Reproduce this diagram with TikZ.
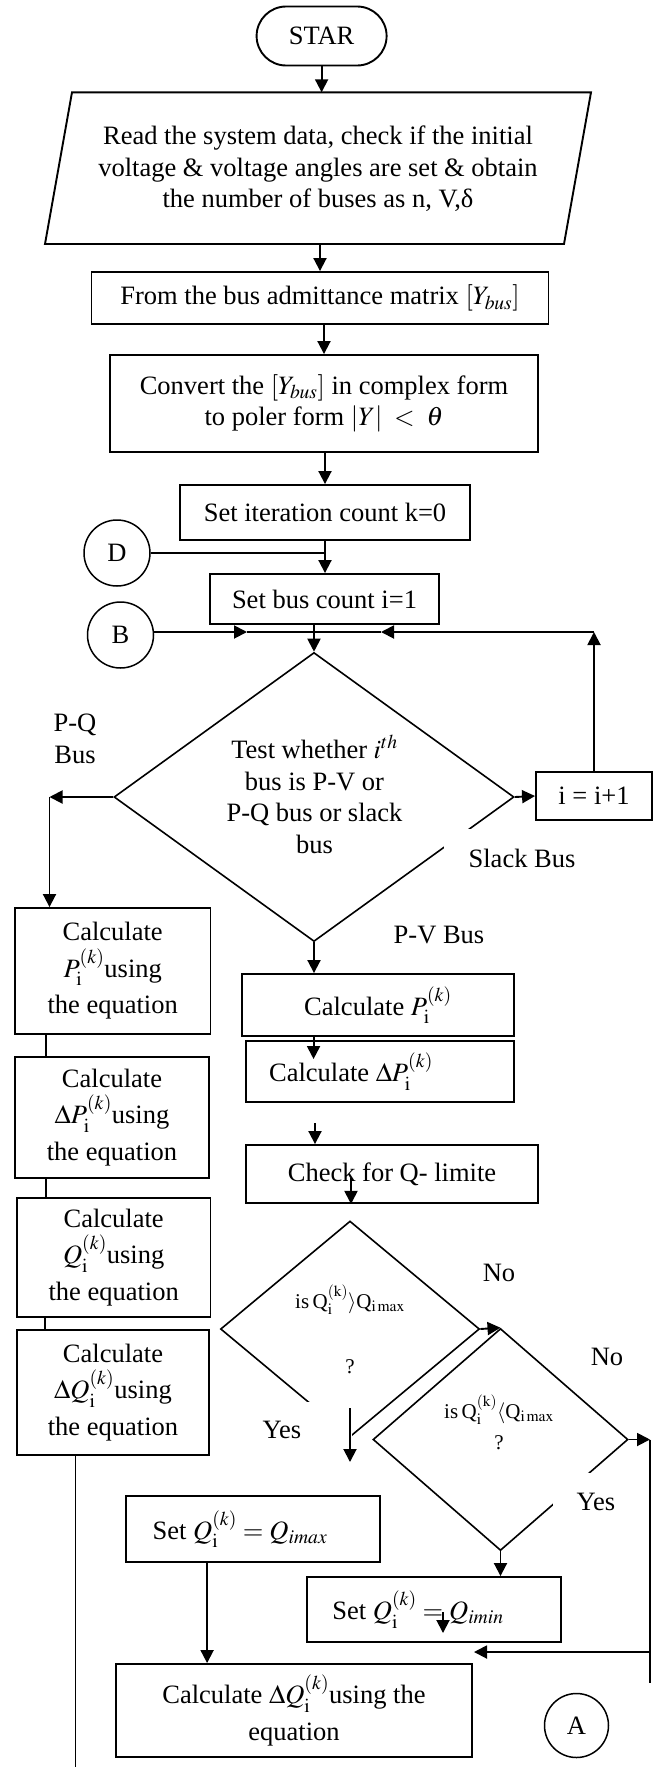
\documentclass[tikz,border=0pt]{standalone}
\usepackage{mathptmx}
\usepackage{fontspec}
\setmainfont{Liberation Serif}
\usetikzlibrary{arrows.meta,shapes.geometric,calc}

\begin{document}
\begin{tikzpicture}[x=1pt,y=-1pt,
  font=\fontsize{26.5}{31.7}\selectfont,
  box/.style={draw,line width=1.9pt,inner sep=0pt,align=center},
  tallbox/.style={box,font=\fontsize{26.5}{36.5}\selectfont},
  circ/.style={draw,circle,line width=1.5pt,inner sep=0pt,minimum size=66pt},
  dia/.style={draw,diamond,line width=1.6pt,inner sep=0pt},
  txt/.style={inner sep=0pt,align=center},
  small/.style={txt,font=\fontsize{21}{25}\selectfont},
  cover/.style={fill=white,inner sep=0pt},
  thin/.style={draw,line width=1.3pt},
  conn/.style={draw,line width=1.9pt},
  arr/.style={conn,-{Triangle[length=13pt,width=13pt]}}]

\useasboundingbox (0,0) rectangle (654,1767);

% ---------- top of the chart ----------
\node[box,minimum width=130pt,minimum height=59pt,rounded corners=29.5pt] (star) at (321.6,36) {STAR};

\draw[line width=1.9pt] (72,92.3) -- (591,92.3) -- (564,244) -- (45,244) -- cycle;
\node[txt] (read) at (318,169) {Read the system data, check if the initial\\voltage \& voltage angles are set \& obtain\\the number of buses as n, V,δ};
\coordinate (rtop) at (320,92.3);
\coordinate (rbot) at (320,244);

\node[box,minimum width=457pt,minimum height=52pt] (ybus) at (320,298) {From the bus admittance matrix $[Y_{bus}]$};
\node[box,minimum width=428pt,minimum height=97pt] (polar) at (324,403.5) {Convert the $[Y_{bus}]$ in complex form\\to poler form $|Y|\;<\;\theta$};
\node[box,minimum width=290pt,minimum height=55pt] (iter) at (325,512.5) {Set iteration count k=0};
\node[circ] (D) at (117,553) {D};
\node[box,minimum width=229pt,minimum height=50pt] (busc) at (324.5,599) {Set bus count i=1};
\node[circ] (B) at (120.5,635) {B};

% ---------- bus type test ----------
\node[dia,minimum width=400pt,minimum height=289pt] (test) at (314,797) {};
\node[txt] (testtxt) at (314.5,794.5) {Test whether $i^{th}$\\bus is P-V or\\P-Q bus or slack\\bus};
\node[box,minimum width=116pt,minimum height=48pt] (inc) at (594,796) {i = i+1};
\node[txt] (pqlab) at (75,739) {P-Q\\Bus};
\node[cover,minimum width=156pt,minimum height=58pt] (slack) at (522,858) {Slack Bus};
\node[txt] (pvlab) at (439,935) {P-V Bus};

% ---------- P-Q bus column ----------
\node[tallbox,minimum width=195.5pt,minimum height=126pt] (pcal) at (112.7,971) {Calculate\\$P_{\mathrm{i}}^{(k)}$using\\the equation};
\node[tallbox,minimum width=194pt,minimum height=121pt] (dpcal) at (112,1117.5) {Calculate\\$\Delta P_{\mathrm{i}}^{(k)}$using\\the equation};
\node[tallbox,minimum width=193.5pt,minimum height=119pt] (qcal) at (113.7,1257.5) {Calculate\\$Q_{\mathrm{i}}^{(k)}$using\\the equation};
\node[tallbox,minimum width=192pt,minimum height=125pt] (dqcal) at (113,1392.5) {Calculate\\$\Delta Q_{\mathrm{i}}^{(k)}$using\\the equation};

% ---------- P-V bus column ----------
\node[box,minimum width=272pt,minimum height=62pt] (pv1) at (378,1005) {Calculate $P_{\mathrm{i}}^{(k)}$};
\node[box,minimum width=267.5pt,minimum height=61pt] (pv2) at (380,1071.5) {Calculate $\Delta P_{\mathrm{i}}^{(k)}$\hspace*{58pt}};
\node[box,minimum width=291.5pt,minimum height=58pt] (qlim) at (392,1174) {Check for Q- limite};

\node[dia,minimum width=259pt,minimum height=216pt] (over) at (350,1329) {};
\node[small] (overtxt) at (350,1300) {is\,Q$_{\mathrm{i}}^{\mathrm{(k)}}\rangle$Q$_{\mathrm{i\,max}}$};
\node[small] (overq) at (350,1367) {?};
\node[dia,minimum width=255pt,minimum height=222pt] (under) at (500.5,1439.5) {};
\node[small] (undertxt) at (499,1410) {is\,Q$_{\mathrm{i}}^{\mathrm{(k)}}\langle$Q$_{\mathrm{i\,max}}$};
\node[small] (underq) at (499,1443) {?};

\node[txt] (no1) at (499,1273) {No};
\node[txt] (no2) at (607,1357) {No};
\node[cover,minimum width=112pt,minimum height=56pt] (yes1) at (296,1430) {Yes\hspace*{28pt}};
\node[cover,minimum width=86pt,minimum height=58pt] (yes2) at (596,1502) {Yes};

\node[box,minimum width=253.5pt,minimum height=66pt] (setmax) at (252.8,1529) {Set $Q_{\mathrm{i}}^{(k)} = Q_{imax}$\hspace*{25.6pt}};
\node[box,minimum width=253.6pt,minimum height=65pt] (setmin) at (434,1609.5) {Set $Q_{\mathrm{i}}^{(k)} = Q_{imin}$\hspace*{32pt}};
\node[tallbox,minimum width=355.7pt,minimum height=93pt] (dqfin) at (294,1710.5) {Calculate $\Delta Q_{\mathrm{i}}^{(k)}$using the\\equation};
\node[circ,minimum size=64pt] (A) at (576.5,1725.5) {A};

% ---------- connectors: main line ----------
\draw[arr] (star.south) -- (star.south |- rtop);
\draw[arr] (rbot) -- (ybus.north);
\draw[arr] (ybus.south -| polar.north) -- (polar.north);
\draw[arr] (polar.south -| iter.north) -- (iter.north);
\draw[arr] (iter.south) -- (iter.south |- busc.north);
\draw[thin] (D.east) -- (D.east -| iter.south);
\draw[arr] (test.north |- busc.south) -- (test.north);

% loop back into the bus test
\coordinate (jn) at (314,632);
\coordinate (bmid) at (247,632);
\coordinate (lmid) at (381,632);
\draw[arr] (B.east |- jn) -- (bmid);
\draw[conn] (bmid) -- (jn);
\draw[arr] (inc.north) -- (inc.north |- jn);
\draw[arr] (inc.north |- jn) -- (lmid);
\draw[conn] (lmid) -- (jn);

% branches of the bus test
\coordinate (pq) at (49.5,797);
\draw[arr] (test.west) -- (pq);
\draw[arr] (pq) -- (pq |- pcal.north);
\draw[arr] (test.east) -- (inc.west);
\draw[arr] (test.south) -- (test.south |- pv1.north);

% P-Q column links
\coordinate (c1) at ($(pcal.south west)+(32,0)$);
\draw[thin] (c1) -- (c1 |- dpcal.north);
\coordinate (c2) at ($(dpcal.south west)+(32,0)$);
\draw[thin] (c2) -- (c2 |- qcal.north);
\coordinate (c3) at ($(qcal.south west)+(29,0)$);
\draw[thin] (c3) -- (c3 |- dqcal.north);
\coordinate (lend) at (75.5,1767);
\draw[thin] (lend |- dqcal.south) -- (lend);

% P-V column links
\coordinate (r1) at ($(pv1.south west)+(72.5,0)$);
\coordinate (r1e) at ($(pv2.north west)+(68,19)$);
\draw[arr] (r1) -- (r1 |- r1e);
\coordinate (f1) at (315,1123);
\draw[arr] (f1) -- (f1 |- qlim.north);
\coordinate (f2) at (351,1178);
\draw[arr] (f2) -- (f2 |- qlim.south);
\draw[arr] (over.east) -- (under.north);
\coordinate (f3) at (350,1408);
\coordinate (f4) at (350,1462);
\draw[arr] (f3) -- (f4);

\coordinate (rc) at (650,1440);
\coordinate (rend) at (650,1683);
\coordinate (rj) at (650,1652);
\coordinate (rt) at (474,1652);
\draw[arr] (under.east) -- (under.east -| rc);
\draw[conn] (under.east -| rc) -- (rend);
\draw[arr] (rj) -- (rt);
\draw[arr] (under.south) -- (under.south |- setmin.north);
\coordinate (f5) at (443,1612);
\coordinate (f6) at (443,1633);
\draw[arr] (f5) -- (f6);
\coordinate (qm) at ($(setmax.south west)+(82,0)$);
\draw[arr] (qm) -- (qm |- dqfin.north);

\end{tikzpicture}
\end{document}
